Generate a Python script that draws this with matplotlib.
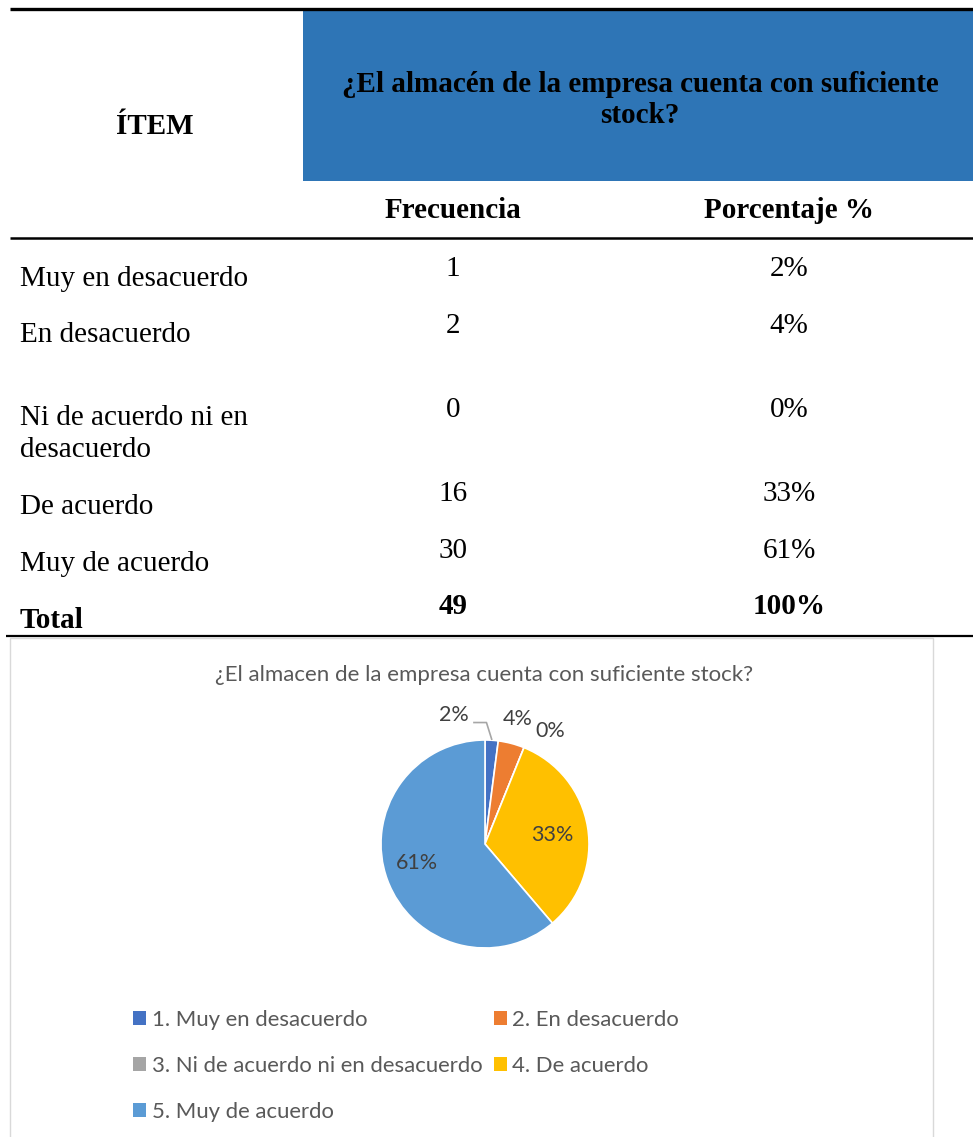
import numpy as np
import matplotlib
matplotlib.use("Agg")
import matplotlib.pyplot as plt
from matplotlib.patches import Rectangle

# survey answers and counts
items = ["Muy en desacuerdo", "En desacuerdo", "Ni de acuerdo ni en\ndesacuerdo",
         "De acuerdo", "Muy de acuerdo"]
frecuencia = [1, 2, 0, 16, 30]
legend_labels = ["1. Muy en desacuerdo", "2. En desacuerdo",
                 "3. Ni de acuerdo ni en desacuerdo", "4. De acuerdo",
                 "5. Muy de acuerdo"]
question_table = "¿El almacén de la empresa cuenta con suficiente\nstock?"
question_chart = "¿El almacen de la empresa cuenta con suficiente stock?"

slice_colors = ["#4472C4", "#ED7D31", "#A5A5A5", "#FFC000", "#5B9BD5"]

total = sum(frecuencia)
porcentaje = [round(100 * f / total) for f in frecuencia]

W, H = 973, 1137
fig = plt.figure(figsize=(W / 100, H / 100), dpi=100)
fig.patch.set_facecolor("white")

# page axes in pixel units (y grows downward)
page = fig.add_axes([0, 0, 1, 1])
page.set_xlim(0, W)
page.set_ylim(H, 0)
page.set_axis_off()

serif = "Liberation Serif"
sans = ["Lato", "DejaVu Sans"]
fs_tab = 21

# header
page.plot([10, W], [9, 9], color="black", lw=2.4, solid_capstyle="butt")
page.add_patch(Rectangle((303, 10), W - 303, 171, facecolor="#2E75B6", edgecolor="none"))
page.text(155, 126, "ÍTEM", family=serif, weight="bold", fontsize=fs_tab,
          ha="center", va="center")
page.text(640, 100, question_table, family=serif, weight="bold", fontsize=fs_tab,
          ha="center", va="center", linespacing=1.2)
page.text(453, 211, "Frecuencia", family=serif, weight="bold", fontsize=fs_tab,
          ha="center", va="center")
page.text(789, 211, "Porcentaje %", family=serif, weight="bold", fontsize=fs_tab,
          ha="center", va="center")
page.plot([10, W], [238, 238], color="black", lw=1.8, solid_capstyle="butt")

# body rows
item_y = [279, 335, 418, 507, 564]
value_y = [269, 326, 410, 494, 551]
for name, f, p, yi, yv in zip(items, frecuencia, porcentaje, item_y, value_y):
    for k, line in enumerate(name.split("\n")):
        page.text(20, yi + 32 * k, line, family=serif, fontsize=fs_tab,
                  ha="left", va="center")
    page.text(453, yv, str(f), family=serif, fontsize=fs_tab, ha="center", va="center")
    page.text(789, yv, f"{p}%", family=serif, fontsize=fs_tab, ha="center", va="center")

page.text(20, 620, "Total", family=serif, weight="bold", fontsize=fs_tab,
          ha="left", va="center")
page.text(453, 607, str(total), family=serif, weight="bold", fontsize=fs_tab,
          ha="center", va="center")
page.text(789, 607, f"{sum(porcentaje)}%", family=serif, weight="bold", fontsize=fs_tab,
          ha="center", va="center")
page.plot([6, W], [636, 636], color="black", lw=1.6, solid_capstyle="butt")

# chart frame
page.add_patch(Rectangle((10, 638), 923, 510, facecolor="white",
                         edgecolor="#D9D9D9", lw=1))
page.text(484, 675, question_chart, family=sans, fontsize=16, color="#595959",
          ha="center", va="center")

# pie chart
cx, cy, r = 485, 844, 104
ax = fig.add_axes([(cx - 1.25 * r) / W, (H - cy - 1.25 * r) / H, 2.5 * r / W, 2.5 * r / H])
wedges, _ = ax.pie(frecuencia, colors=slice_colors, startangle=90, counterclock=False,
                   wedgeprops=dict(edgecolor="white", linewidth=1.2))
ax.set_xlim(-1.25, 1.25)
ax.set_ylim(-1.25, 1.25)

# data labels: (radius, angle offset, dx, dy) per slice
label_style = [(1.24, 0, -0.38, 0.0), (1.25, 0, 0.0, -0.01), (1.25, 0, 0.16, -0.07),
               (0.65, -1.5, 0, 0), (0.68, -5, 0, 0)]
for w, p, (rad, dang, dx, dy) in zip(wedges, porcentaje, label_style):
    mid = np.deg2rad((w.theta1 + w.theta2) / 2 + dang)
    x = rad * np.cos(mid) + dx
    y = rad * np.sin(mid) + dy
    ax.text(x, y, f"{p}%", family=sans, fontsize=15.5, color="#404040",
            ha="center", va="center")

# leader line for the smallest slice
w0 = wedges[0]
mid0 = np.deg2rad((w0.theta1 + w0.theta2) / 2)
ex, ey = np.cos(mid0), np.sin(mid0)
ax.plot([ex - 0.17, ex - 0.05, ex], [ey + 0.17, ey + 0.17, ey + 0.01],
        color="#A6A6A6", lw=1.2)

# legend, filled row by row
order = [0, 2, 4, 1, 3]
leg = ax.legend([wedges[i] for i in order], [legend_labels[i] for i in order],
                ncol=2, loc="upper left", frameon=False,
                bbox_to_anchor=(133 / W, 1 - 1010 / H), bbox_transform=fig.transFigure,
                prop=dict(family=sans, size=15.9), handlelength=0.6, handleheight=0.6,
                handletextpad=0.25, columnspacing=0.5, labelspacing=1.18, borderpad=0,
                borderaxespad=0)
for t in leg.get_texts():
    t.set_color("#595959")
for h in leg.legend_handles:
    h.set_edgecolor("none")

fig.savefig("out.png", dpi=100, facecolor="white")
